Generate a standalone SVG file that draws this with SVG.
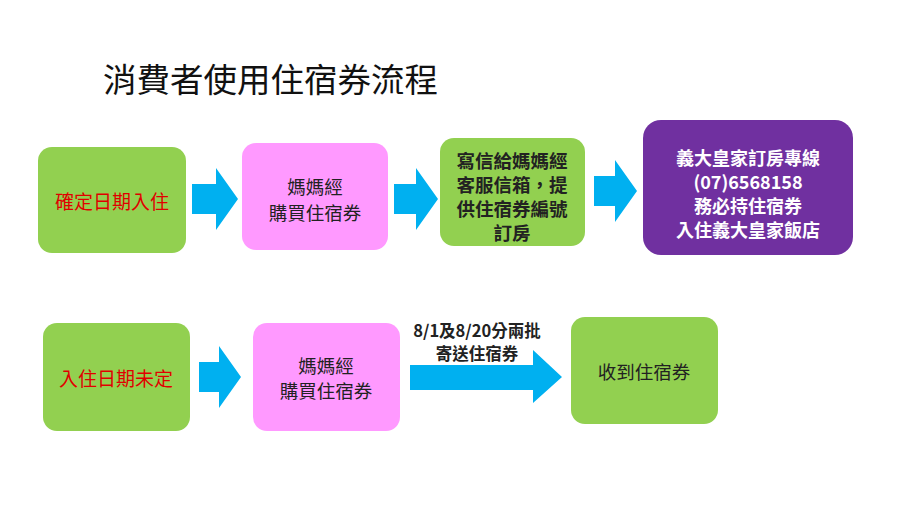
<svg xmlns="http://www.w3.org/2000/svg" width="900" height="506" viewBox="0 0 900 506">
<style>
.g{fill:#92D050}.p{fill:#FF99FF}.v{fill:#7030A0}.a{fill:#00B0F0}
text{font-family:"Noto Sans CJK TC","Noto Sans CJK SC",sans-serif;text-anchor:middle;dominant-baseline:central}
.t{font-size:18.5px;fill:#222}.r{font-size:19px;fill:#E00000}.w{font-size:18px;fill:#fff;font-weight:bold}.b{font-size:16.5px;fill:#222;font-weight:bold}.c{font-size:18.5px;fill:#222;font-weight:bold}
</style>
<rect width="900" height="506" fill="#fff"/>
<text x="103" y="77" style="font-size:33.5px;text-anchor:start;fill:#111">消費者使用住宿券流程</text>
<g id="connectors">
<polygon class="a" points="192,184 216,184 216,168 238,199 216,230 216,214 192,214"/>
<polygon class="a" points="394,184 416,184 416,168 438,199 416,230 416,214 394,214"/>
<polygon class="a" points="594,176 615,176 615,160 637,191 615,222 615,206 594,206"/>
<polygon class="a" points="199,362 219,362 219,346 241,377 219,408 219,392 199,392"/>
<polygon class="a" points="410,365 533,365 533,350 562,377 533,403 533,390 410,390"/>
<text class="b" x="477" y="330">8/1及8/20分兩批</text>
<text class="b" x="477" y="353">寄送住宿券</text>
</g>
<g id="n1"><rect class="g" x="38" y="147" width="148" height="106" rx="14"/><text class="r" x="112" y="200">確定日期入住</text></g>
<g id="n2"><rect class="p" x="242" y="143" width="146" height="107" rx="14"/><text class="t" x="315" y="186">媽媽經</text><text class="t" x="315" y="212">購買住宿券</text></g>
<g id="n3"><rect class="g" x="440" y="138" width="145" height="108" rx="14"/><text class="c" x="512" y="160">寫信給媽媽經</text><text class="c" x="512" y="184">客服信箱，提</text><text class="c" x="512" y="208">供住宿券編號</text><text class="c" x="512" y="232">訂房</text></g>
<g id="n4"><rect class="v" x="643" y="120" width="210" height="135" rx="18"/><text class="w" x="748" y="157">義大皇家訂房專線</text><text class="w" x="748" y="181">(07)6568158</text><text class="w" x="748" y="205">務必持住宿券</text><text class="w" x="748" y="229">入住義大皇家飯店</text></g>
<g id="n5"><rect class="g" x="43" y="323" width="147" height="108" rx="14"/><text class="r" x="116" y="377">入住日期未定</text></g>
<g id="n6"><rect class="p" x="253" y="323" width="147" height="108" rx="14"/><text class="t" x="326" y="365">媽媽經</text><text class="t" x="326" y="390">購買住宿券</text></g>
<g id="n7"><rect class="g" x="571" y="317" width="147" height="107" rx="14"/><text class="t" x="644" y="371">收到住宿券</text></g>
</svg>
